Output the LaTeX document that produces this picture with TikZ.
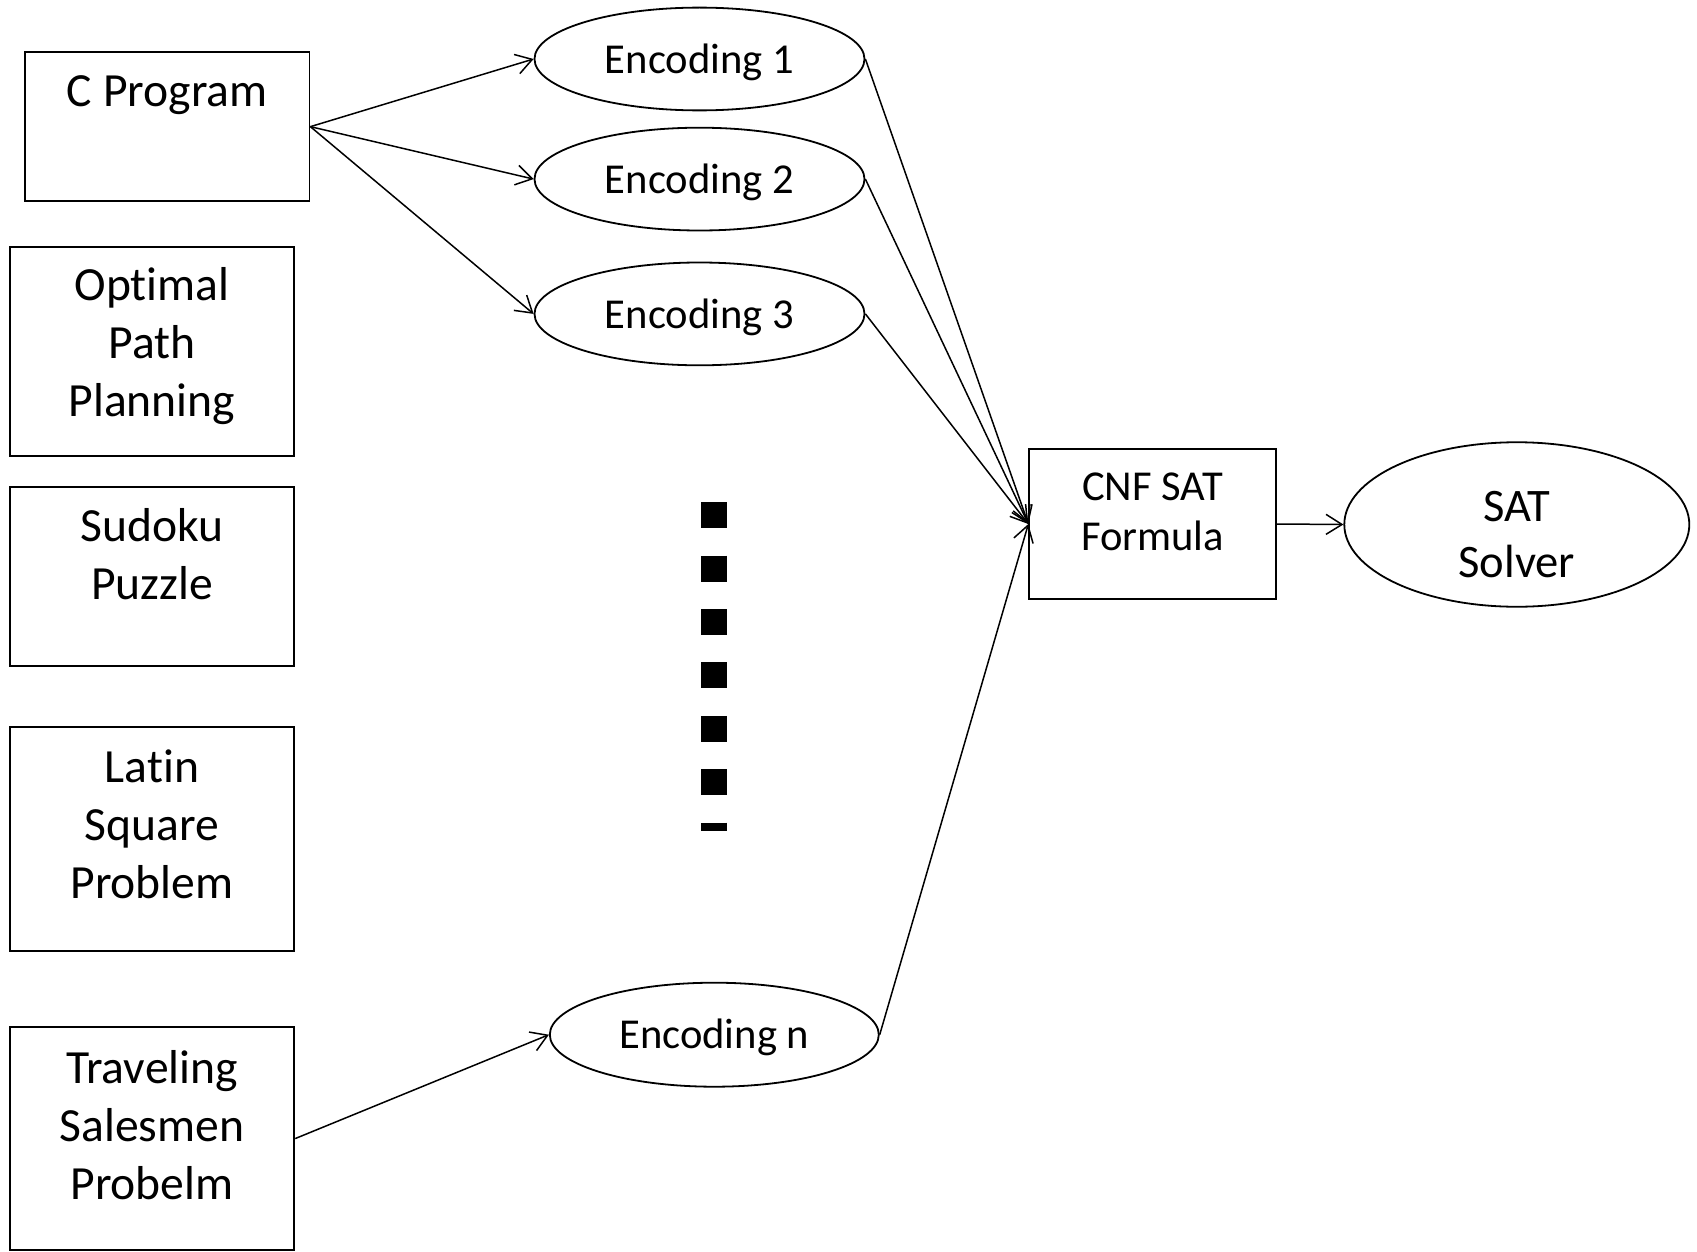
\documentclass[tikz,border=0pt]{standalone}
\usepackage{fontspec}
\setmainfont[Ligatures=NoCommon]{Carlito}
\usetikzlibrary{arrows.meta,shapes.geometric}
\begin{document}
\begin{tikzpicture}[x=0.5pt,y=-0.5pt,
  box/.style={draw, line width=0.9pt, rectangle, inner sep=0pt},
  ell/.style={draw, line width=0.9pt, ellipse, inner sep=0pt},
  big/.style={font=\fontsize{23.8}{29}\selectfont, align=center, anchor=base, inner sep=0pt},
  mid/.style={font=\fontsize{21.3}{25}\selectfont},
  enctxt/.style={font=\fontsize{21.3}{25}\selectfont, anchor=center, inner sep=0pt},
  midtxt/.style={font=\fontsize{21.3}{25}\selectfont, align=center, anchor=base, inner sep=0pt},
  sattxt/.style={font=\fontsize{23.3}{28.4}\selectfont, align=center, anchor=base, inner sep=0pt},
  conn/.style={line width=0.75pt, -{Straight Barb[length=8pt,width=10pt]}},
]
\useasboundingbox (0,0) rectangle (1697,1252);

% left boxes
\node[box, minimum width=142.3pt, minimum height=74.65pt] (cprog) at (167.2,126.65) {};
\node[box, minimum width=142.35pt, minimum height=104.4pt] (optimal) at (152,351.2) {};
\node[box, minimum width=142.35pt, minimum height=89.3pt] (sudoku) at (152,576.3) {};
\node[box, minimum width=142.35pt, minimum height=112pt] (latin) at (152,839.3) {};
\node[box, minimum width=142.35pt, minimum height=111.45pt] (travel) at (152,1138.55) {};

% texts (anchor base = baseline of last line)
\node[big] (tcprog) at (167.2,106) {C Program};
\node[big] (toptimal) at (152,416) {Optimal\\Path\\Planning};
\node[big] (tsudoku) at (152,599) {Sudoku\\Puzzle};
\node[big] (tlatin) at (152,898) {Latin\\Square\\Problem};
\node[big] (ttravel) at (152,1199) {Traveling\\Salesmen\\Probelm};

% encodings
\node[ell, minimum width=165pt, minimum height=51.4pt] (enc1) at (699.5,59) {};
\node[ell, minimum width=165pt, minimum height=51.4pt] (enc2) at (699.5,179.1) {};
\node[ell, minimum width=165pt, minimum height=51.4pt] (enc3) at (699.5,313.9) {};
\node[ell, minimum width=164.5pt, minimum height=52pt] (encn) at (714.3,1034.7) {};
\node[enctxt] (tenc1) at (699.5,62) {Encoding 1};
\node[enctxt] (tenc2) at (699.5,182.1) {Encoding 2};
\node[enctxt] (tenc3) at (699.5,316.9) {Encoding 3};
\node[enctxt] (tencn) at (714.3,1037.7) {Encoding n};

% dots
\draw[line width=13pt, dash pattern=on 13pt off 13.7pt] (714.3,502.2) -- (714.3,831.3);

% CNF and solver
\node[box, minimum width=123.35pt, minimum height=74.75pt] (cnf) at (1152.6,524) {};
\node[midtxt] (tcnf) at (1152.6,550) {CNF SAT\\Formula};
\node[ell, minimum width=172.5pt, minimum height=82.25pt] (sat) at (1516.8,524.5) {};
\node[sattxt] (tsat) at (1516.8,577.8) {SAT\\Solver};

% connectors
\draw[conn] (cprog.east) -- (enc1.west);
\draw[conn] (cprog.east) -- (enc2.west);
\draw[conn] (cprog.east) -- (enc3.west);
\draw[conn] (travel.east) -- (encn.west);
\draw[conn] (enc1.east) -- (cnf.west);
\draw[conn] (enc2.east) -- (cnf.west);
\draw[conn] (enc3.east) -- (cnf.west);
\draw[conn] (encn.east) -- (cnf.west);
\draw[conn] (cnf.east) -- (sat.west);
\end{tikzpicture}
\end{document}
